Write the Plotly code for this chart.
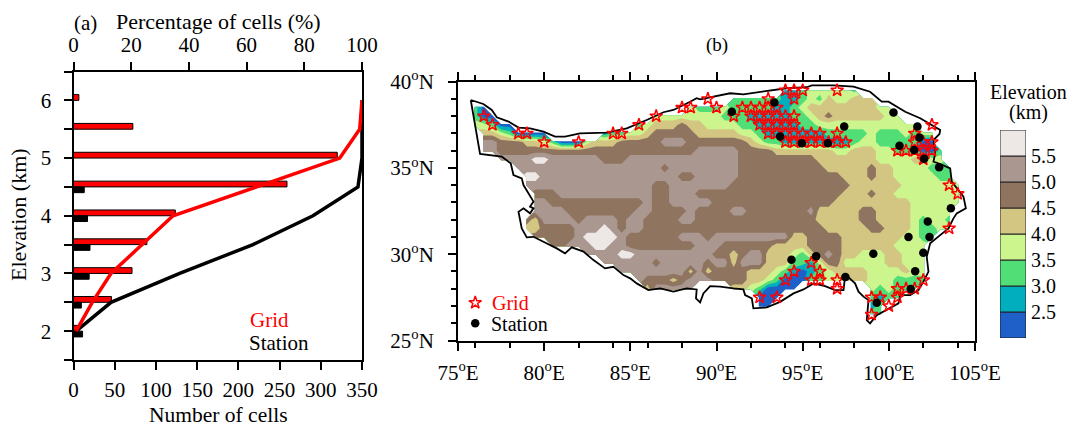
import numpy as np
import plotly.graph_objects as go

# ---------- panel (a) ----------
elevation = [2, 2.5, 3, 3.5, 4, 4.5, 5, 5.5, 6]
grid_counts = [5, 46, 71, 89, 123.5, 259, 320, 72, 6.5]
station_counts = [11, 9.5, 19, 20, 17, 13, 0, 0, 0]
grid_pct = [0.9, 6.5, 13, 23.7, 34.5, 63.5, 92.3, 99.2, 100]
station_pct = [0.9, 13, 36.8, 62.2, 83, 98.6, 100, 100, 100]

# ---------- panel (b) ----------
lat_rows = [39.5, 39, 38.5, 38, 37.5, 37, 36.5, 36, 35.5, 35, 34.5, 34, 33.5, 33, 32.5, 32, 31.5, 31,
            30.5, 30, 29.5, 29, 28.5, 28, 27.5, 27, 26.5]
# each row: (first longitude, elevation band) runs; band 0 = no data
band_runs = [
 [(94,2),(95,3),(95.5,4),(97.5,4),(98,3),(98.5,0)],
 [(91,3),(94,2),(95,3),(95.5,4),(96,3),(96.5,5),(97,4),(98,5),(99.5,0)],
 [(76,3),(76.5,1),(77,0),(88.5,4),(89,3),(90.5,4),(91,3),(93.5,2),(94.5,3),(95,4),(95.5,5),(99.5,4),(100.5,0)],
 [(76,3),(76.5,1),(77.5,0),(86.5,4),(90.5,3),(92,2),(94.5,3),(95.5,4),(96,5),(96.5,6),(97,5),(100,4),(101,0)],
 [(76,4),(77,3),(77.5,1),(78.5,0),(85.5,3),(86,4),(86.5,5),(88,6),(88.5,5),(89.5,4),(91.5,3),(92.5,2),(95,3),(96,4),(102,0)],
 [(76.5,5),(77.5,4),(78,3),(78.5,1),(80.5,0),(83.5,2),(84,3),(85,4),(86,5),(86.5,6),(89,5),(91.5,4),(92.5,3),(93,2),(96.5,3),(99,4),(99.5,3),(101,4),(101.5,3),(102,4),(103,0)],
 [(76.5,7),(77.5,6),(79,5),(80,4),(80.5,3),(81,1),(82.5,4),(83,5),(84.5,6),(87,7),(88.5,6),(92,5),(92.5,4),(93,3),(94,2),(98,3),(98.5,4),(99.5,3),(102,1),(103,0)],
 [(76.5,7),(77.5,6),(89,7),(91.5,6),(93.5,5),(97,4),(98,5),(99.5,4),(100.5,3),(102,1),(103,3),(103.5,0)],
 [(77.5,7),(79.5,8),(80.5,7),(83.5,6),(85,7),(91.5,6),(96,5),(99.5,4),(101.5,5),(102.5,4),(103.5,0)],
 [(78.5,7),(87,6),(87.5,7),(91.5,6),(96.5,5),(99,6),(99.5,5),(100.5,4),(102.5,3),(104,0)],
 [(79,8),(80,7),(88,6),(89,7),(91.5,6),(97.5,5),(99,6),(99.5,5),(100.5,4),(103,3),(104,0)],
 [(79,7),(86.5,6),(87.5,7),(91,6),(98,5),(101,4),(104.5,0)],
 [(79.5,6),(81,7),(86.5,6),(87.5,7),(89,6),(97.5,5),(99,6),(99.5,5),(100.5,4),(104.5,0)],
 [(79.5,7),(80.5,6),(86,7),(86.5,6),(87.5,7),(90,6),(97,5),(101.5,4),(104.5,0)],
 [(79.5,7),(81.5,6),(85.5,7),(86.5,6),(88.5,7),(89,6),(91,7),(92,6),(95.5,7),(96,5),(98.5,6),(99.5,5),(101.5,4),(104,0)],
 [(79,6),(79.5,5),(80,7),(82,6),(82.5,7),(84.5,6),(85,7),(86,6),(88,7),(89,6),(96,5),(98.5,6),(99.5,5),(101.5,4),(102,3),(102.5,4),(103.5,3),(104,0)],
 [(79,5),(80,6),(82,7),(83.5,8),(84,7),(84.5,6),(85,7),(86,6),(96.5,5),(99,6),(100,5),(101.5,4),(102,3),(103,4),(104,0)],
 [(79.5,6),(82,7),(82.5,8),(84.5,7),(85,6),(88,7),(89.5,6),(90,7),(94.5,5),(95.5,6),(97.5,5),(101,4),(102,3),(103,0)],
 [(80.5,6),(81.5,7),(83,8),(84,7),(85,6),(89,7),(90.5,6),(93.5,5),(95.5,6),(97.5,5),(100.5,4),(102.5,0)],
 [(82.5,7),(84.5,8),(85.5,7),(90,6),(91,5),(91.5,6),(92,7),(93,5),(94.5,4),(95,3),(95.5,5),(96,6),(96.5,7),(97,6),(97.5,5),(98.5,4),(100,5),(101,4),(102.5,0)],
 [(83.5,7),(86.5,6),(87,7),(89.5,6),(90,7),(91,5),(91.5,7),(93,5),(94.5,3),(95.5,2),(96,4),(96.5,6),(97.5,4),(100,5),(101,4),(102.5,0)],
 [(84.5,7),(88.5,5),(89,7),(89.5,5),(90,6),(92,5),(93.5,4),(94,3),(94.5,2),(95,1),(95.5,2),(96,3),(96.5,4),(97,5),(99,4),(101,5),(101.5,4),(102.5,0)],
 [(85.5,7),(86,6),(87.5,5),(88,6),(88.5,7),(90,6),(92,5),(93,4),(93.5,3),(94,1),(95.5,3),(96.5,4),(97.5,5),(99,4),(100.5,3),(102.5,0)],
 [(86,5),(86.5,7),(89,0),(91,5),(92,4),(92.5,3),(93,1),(95,0),(99,4),(99.5,3),(100,4),(100.5,3),(102,0)],
 [(92.5,1),(94,0),(99,3),(99.5,2),(100,3),(101,0)],
 [(92.5,1),(93.5,0),(99,2),(99.5,3),(100,0)],
 [(99,3),(100,0)],
]

outline_lon = [75.74,76.47,76.96,77.25,77.93,78.51,79.18,79.96,80.63,81.21,82.08,83.63,84.79,85.95,86.92,87.5,88.47,88.85,
 89.05,90.0,90.79,91.56,92.53,94.08,95.24,95.53,96.79,97.95,98.91,99.59,99.98,100.95,101.82,102.59,102.98,102.94,102.59,
 102.69,102.59,102.98,103.56,103.65,104.33,104.47,103.94,103.75,103.46,102.98,102.4,102.2,102.3,102.01,101.72,101.24,
 100.65,100.56,99.88,99.3,98.91,98.72,98.82,98.53,98.24,98.04,97.66,97.46,97.37,96.88,96.3,95.63,95.05,94.47,93.69,
 92.92,92.14,92.05,91.66,91.56,90.98,90.21,89.63,89.24,89.05,88.81,88.85,88.27,87.5,86.73,86.05,85.37,84.99,84.6,84.02,
 83.53,82.86,82.28,81.6,81.21,80.73,79.96,79.38,78.99,78.7,78.51,78.8,79.18,79.38,79.18,79.38,78.8,78.7,78.22,78.06,
 77.54,76.67,76.28,75.74]
outline_lat = [38.94,38.71,38.36,37.94,37.69,37.34,37.3,37.1,36.82,36.82,37.01,37.05,37.3,37.78,38.23,38.36,38.84,39.04,
 38.98,39.17,39.33,39.27,39.39,39.62,39.68,39.79,39.79,39.71,39.42,38.84,38.84,38.26,37.88,37.4,37.2,36.97,36.62,
 35.85,35.37,35.23,34.98,34.21,33.34,32.66,32.37,32.08,31.5,31.11,30.63,29.85,28.99,28.41,27.92,27.63,
 27.63,27.15,26.76,26.47,25.99,26.18,27.34,27.54,27.83,28.31,28.66,28.7,27.92,27.92,28.15,28.31,27.96,27.73,27.24,
 26.92,26.86,27.44,27.63,27.96,28.02,28.12,28.15,27.73,27.21,27.44,27.96,28.02,27.83,28.02,27.92,28.31,28.6,28.79,29.27,
 29.18,29.66,30.15,30.4,30.05,30.34,30.72,31.01,30.98,31.5,32.46,32.66,32.37,32.66,32.76,33.05,34.01,34.4,34.59,35.27,
 35.66,35.75,35.81,38.94]

star_lon = [76.5,77,78.5,79,80,82,84,84.5,85.5,86.5,88,88.5,89.5,90,91,94,94.5,95,97,94.5,93,
 91.5,92,92.5,93,93.5, 92,92.5,93,93.5,94,94.5, 92.5,93,93.5,94,94.5,
 93,93.5,94,94.5,95,95.5,96,97, 94,94.5,95,95.5,96,96.5,97,97.5,
 102.5,101.5,101.5,102,102.5,100.5,101,101.5,102,102.5,102,103.5,104,103.5,102,101.5,101,100.5,100.5,100,99,99.5,99,
 95.5,96,94.5,94,95.5,96,97,97,92.5,93.5]
star_lat = [38,37.5,37,37,36.5,36.5,37,37,37.5,38,38.5,38.5,39,38.5,38,39.5,39.5,39.5,39.5,39,39,
 38.5,38.5,38.5,38.5,38.5, 38,38,38,38,38,38, 37.5,37.5,37.5,37.5,37.5,
 37,37,37,37,37,37,37,37, 36.5,36.5,36.5,36.5,36.5,36.5,36.5,36.5,
 37.5,37,36.5,36.5,36.5,36,36,36,36,36,35.5,34,33.5,31.5,28.5,28,28,28,27.5,27,27.5,27.5,26.5,
 29.5,29,29,28.5,28.5,28.5,28.5,28,27.5,27.5]
dot_lon = [93.36,90.89,100.27,97.41,93.69,94.95,96.46,101.66,101.78,100.62,101.47,102.05,102.92,103.6,102.26,102.36,101.14,
 102.0,99.1,101.53,101.27,99.3,97.48,95.78,94.35]
dot_lat = [38.79,38.26,38.21,37.4,36.82,36.43,36.43,37.4,36.76,36.29,36.04,35.54,35.04,32.66,31.9,31.0,31.0,
 30.09,30.03,29.02,27.98,27.19,28.68,29.89,29.68]

levels = [2.5, 3.0, 3.5, 4.0, 4.5, 5.0, 5.5]
band_colors = ["#1E5FC8", "#00AEBE", "#52DE76", "#CDF58E", "#D3C682", "#8F745F", "#AA9790", "#EDE8E6"]
lon_ticks = [75, 80, 85, 90, 95, 100, 105]
lat_ticks = [25, 30, 35, 40]

# ---------- build ----------
W, H = 1068, 428
FONT = "Liberation Serif"
def fx(p): return p / W
def fy(p): return 1 - p / H

lons = np.arange(75, 105.01, 0.5)
z = np.full((len(lat_rows), len(lons)), np.nan)
for r, runs in enumerate(band_runs):
    for (s, b), nxt in zip(runs, runs[1:] + [(105.5, 0)]):
        if b:
            z[r, (lons >= s) & (lons < nxt[0])] = 2.25 + 0.5 * (b - 1)

cs = []
for i, c in enumerate(band_colors):
    cs += [[i / 8, c], [(i + 1) / 8, c]]

fig = go.Figure()
fig.add_bar(y=[e + 0.05 for e in elevation], x=grid_counts, orientation="h", width=0.1,
            marker=dict(color="#FF0000", line=dict(color="black", width=1)), xaxis="x", yaxis="y", showlegend=False)
fig.add_bar(y=[e - 0.05 for e in elevation], x=station_counts, orientation="h", width=0.1,
            marker=dict(color="black", line=dict(color="black", width=1)), xaxis="x", yaxis="y", showlegend=False)
fig.add_scatter(x=station_pct, y=elevation, mode="lines", line=dict(color="black", width=3.5), xaxis="x2", yaxis="y", showlegend=False)
fig.add_scatter(x=grid_pct, y=elevation, mode="lines", line=dict(color="#FF0000", width=3.5), xaxis="x2", yaxis="y", showlegend=False)

fig.add_contour(x=lons, y=lat_rows, z=z, colorscale=cs, zmin=2, zmax=6, showscale=False, connectgaps=False,
                autocontour=False, contours=dict(start=2.5, end=5.5, size=0.5, coloring="fill", showlines=False),
                line=dict(width=0, smoothing=0), xaxis="x3", yaxis="y3")
fig.add_scatter(x=outline_lon, y=outline_lat, mode="lines", line=dict(color="black", width=1.8), xaxis="x3", yaxis="y3", showlegend=False)
fig.add_scatter(x=star_lon + [76], y=star_lat + [27.19], mode="markers", xaxis="x3", yaxis="y3", showlegend=False,
                marker=dict(symbol="star-open", size=9.5, color="#FF0000", line=dict(color="#FF0000", width=1.5)))
fig.add_scatter(x=dot_lon + [76], y=dot_lat + [26.0], mode="markers", xaxis="x3", yaxis="y3", showlegend=False,
                marker=dict(symbol="circle", size=8.5, color="black"))

fig.add_bar(x=[0.5] * 8, y=[0.5] * 8, base=[2] + levels, width=1, xaxis="x4", yaxis="y4", showlegend=False,
            marker=dict(color=band_colors, line=dict(color="#222222", width=1)))

ax = dict(showgrid=False, zeroline=False, showline=True, linecolor="black", linewidth=2, ticks="outside",
          tickcolor="black", tickwidth=1.5, ticklen=8, tickfont=dict(family=FONT, size=21, color="black"))
fig.update_layout(
    width=W, height=H, margin=dict(l=0, r=0, t=0, b=0, autoexpand=False), paper_bgcolor="white", plot_bgcolor="white",
    barmode="overlay", font=dict(family=FONT, color="black"), showlegend=False,
    xaxis=dict(ax, domain=[fx(73.5), fx(362)], range=[0, 350], dtick=50, anchor="y", ticklabelstandoff=2),
    xaxis2=dict(ax, domain=[fx(73.5), fx(362)], range=[0, 100], dtick=20, side="top", anchor="y", overlaying="x", ticklabelstandoff=1),
    yaxis=dict(ax, domain=[fy(360), fy(71.5)], range=[1.5, 6.5], dtick=1, mirror=True, anchor="x", ticklabelstandoff=8,
               minor=dict(dtick=0.5, ticklen=8, tickwidth=1.5, tickcolor="black", ticks="outside")),
    xaxis3=dict(ax, domain=[fx(458), fx(975)], range=[75, 105], tickvals=lon_ticks, mirror="ticks", anchor="y3",
                ticktext=[f"{v}<sup>o</sup>E" for v in lon_ticks], ticklabelstandoff=4,
                minor=dict(tickvals=list(range(76, 105, 2)), ticklen=5, tickwidth=1.5, tickcolor="black", ticks="outside")),
    yaxis3=dict(ax, domain=[fy(340.5), fy(81.7)], range=[25, 40], tickvals=lat_ticks, mirror=True, anchor="x3",
                ticktext=[f"{v}<sup>o</sup>N" for v in lat_ticks], ticklabelstandoff=10,
                minor=dict(dtick=1, ticklen=5, tickwidth=1.5, tickcolor="black", ticks="outside")),
    xaxis4=dict(domain=[fx(1000), fx(1026)], range=[0, 1], visible=False, anchor="y4", fixedrange=True),
    yaxis4=dict(domain=[fy(338), fy(130)], range=[2, 6], side="right", anchor="x4", tickvals=levels,
                ticktext=[f"{v:.1f}" for v in levels], showgrid=False, zeroline=False, ticks="", ticklabelstandoff=4,
                tickfont=dict(family=FONT, size=20, color="black")),
)

def label(text, x, y, size=20, color="black", angle=0):
    fig.add_annotation(text=text, x=fx(x), y=fy(y), xref="paper", yref="paper", showarrow=False,
                       font=dict(family=FONT, size=size, color=color), textangle=angle,
                       xanchor="center", yanchor="middle")

label("(a)", 85, 23, 21)
label("Percentage of cells (%)", 218, 22, 22)
label("Elevation (km)", 18, 215, 22, angle=-90)
label("Number of cells", 218, 415, 21.5)
label("Grid", 269, 320, 21, "#FF0000")
label("Station", 279, 343, 21)
label("(b)", 717, 45, 19)
label("Grid", 510, 303, 20, "#FF0000")
label("Station", 519, 324, 20)
label("Elevation", 1028, 92, 20)
label("(km)", 1028, 113, 20)

fig.write_html("out.html", config=dict(displayModeBar=False),
               post_script="document.body.style.margin='0';document.documentElement.style.overflow='hidden';")
